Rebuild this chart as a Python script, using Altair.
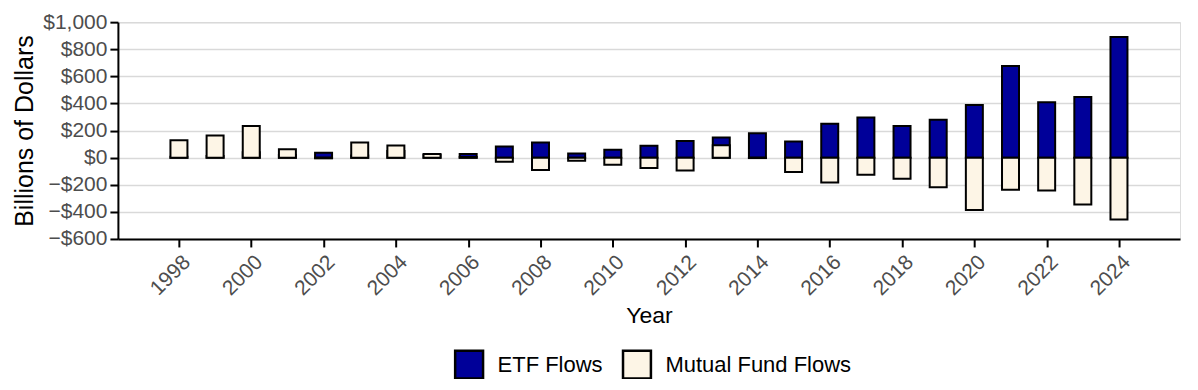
import altair as alt
import pandas as pd

years = list(range(1998, 2025))
etf_flows = [6, 12, 40, 20, 37, 15, 50, 20, 27, 82, 111, 30, 59, 87, 123, 148, 180, 119,
             251, 297, 234, 279, 389, 677, 409, 448, 891]
mf_flows = [128, 163, 234, 62, -5, 111, 89, 27, 5, -30, -91, -22, -52, -77, -94, 92, -3, -106,
            -183, -126, -155, -219, -387, -237, -242, -345, -456]
series = ["ETF Flows", "Mutual Fund Flows"]
colors = ["#000099", "#FDF5E6"]
y_ticks = list(range(-600, 1001, 200))
x_ticks = list(range(1998, 2025, 2))

rows = []
for k, (s, vals) in enumerate(zip(series, [etf_flows, mf_flows])):
    for yr, v in zip(years, vals):
        rows.append({"Year": yr, "Flow": v, "Series": s, "sortkey": k})
df = pd.DataFrame(rows)

chart = alt.Chart(df).mark_bar(size=17, stroke="black", strokeWidth=2).encode(
    x=alt.X("Year:Q",
            scale=alt.Scale(domain=[1996.45, 2025.55], nice=False, zero=False),
            axis=alt.Axis(values=x_ticks, format="d", labelAngle=-45, grid=False,
                          title="Year", titleFontSize=23, titleFontWeight="normal",
                          titleColor="black", labelFontSize=21, labelColor="#4d4d4d",
                          domainColor="black", domainWidth=2, tickColor="black",
                          tickWidth=2, tickSize=8, labelPadding=4, titlePadding=6)),
    y=alt.Y("Flow:Q", stack=None,
            scale=alt.Scale(domain=[-600, 1000], nice=False),
            axis=alt.Axis(values=y_ticks, format="$,.0f", title="Billions of Dollars",
                          titleFontSize=25, titleFontWeight="normal", titleColor="black",
                          labelFontSize=21, labelColor="#4d4d4d", domainColor="black",
                          domainWidth=2, tickColor="black", tickWidth=2, tickSize=8,
                          gridColor="#d9d9d9", gridWidth=1.5, labelPadding=3,
                          titlePadding=5)),
    color=alt.Color("Series:N",
                    scale=alt.Scale(domain=series, range=colors),
                    legend=alt.Legend(title=None, orient="none", direction="horizontal",
                                      legendX=336, legendY=327, symbolType="square",
                                      symbolSize=780, symbolStrokeColor="black",
                                      symbolStrokeWidth=2.5, labelFontSize=22,
                                      labelColor="black", columnPadding=14,
                                      labelOffset=13, labelLimit=400)),
    order=alt.Order("sortkey:Q"),
).properties(
    width=1063, height=217,
    autosize=alt.AutoSizeParams(type="none"),
    padding={"left": 110, "top": 14, "right": 10, "bottom": 140},
).configure_view(stroke=None).configure(font="Liberation Sans")

chart.save("out.html", embed_options={"renderer": "svg", "actions": False})
